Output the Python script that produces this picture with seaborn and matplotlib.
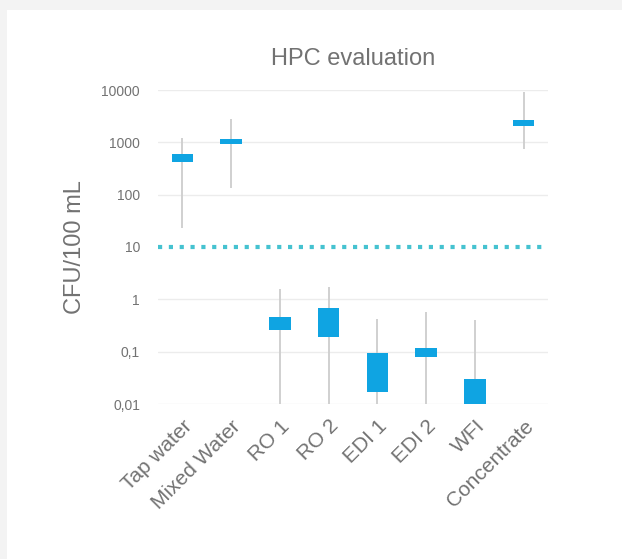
import numpy as np
import pandas as pd
import seaborn as sns
import matplotlib.pyplot as plt
from matplotlib.patches import Rectangle

# samples: min, q1, median, q3, max (CFU/100 mL)
categories = ['Tap water', 'Mixed Water', 'RO 1', 'RO 2', 'EDI 1', 'EDI 2', 'WFI', 'Concentrate']
v_min = [23, 133, 0.01, 0.01, 0.01, 0.01, 0.01, 740]
v_q1 = [417, 920, 0.26, 0.19, 0.017, 0.08, 0.01, 2010]
v_med = [495, 1030, 0.345, 0.36, 0.04, 0.098, 0.017, 2300]
v_q3 = [590, 1140, 0.457, 0.68, 0.096, 0.12, 0.03, 2620]
v_max = [1190, 2740, 1.55, 1.7, 0.42, 0.57, 0.40, 9300]
limit = 10
tick_vals = [0.01, 0.1, 1, 10, 100, 1000, 10000]
tick_labels = ['0,01', '0,1', '1', '10', '100', '1000', '10000']

rows = []
for i, c in enumerate(categories):
    for v in (v_min[i], v_q1[i], v_med[i], v_q3[i], v_max[i]):
        rows.append({'sample': c, 'cfu': v})
df = pd.DataFrame(rows)

sns.set_style('white')
plt.rcParams['font.family'] = ['Liberation Sans', 'DejaVu Sans']

blue = '#0fa4e2'
grey_txt = '#727272'

fig = plt.figure(figsize=(6.22, 5.59), dpi=100, facecolor='#f3f3f3')
fig.patches.append(Rectangle((7 / 622, 0), 1, 1 - 10 / 559, transform=fig.transFigure,
                             facecolor='white', edgecolor='none', zorder=-5))
ax = fig.add_axes([158 / 622, 1 - 404 / 559, 390 / 622, 314 / 559])
ax.set_facecolor('none')

sns.boxplot(data=df, x='sample', y='cfu', ax=ax, log_scale=True, whis=np.inf,
            width=0.44, showcaps=False, color=blue,
            boxprops=dict(facecolor=blue, edgecolor='none', linewidth=0, zorder=3),
            whiskerprops=dict(color='#cdcdcd', linewidth=1.3, zorder=2),
            medianprops=dict(color=blue, linewidth=0),
            showfliers=False)

for t in tick_vals:
    if t != limit:
        ax.axhline(t, color='#ececec', lw=1, zorder=0)
ax.axhline(limit, color='#45c2d0', lw=3, ls=(0, (1, 1.6)), dash_capstyle='butt', zorder=4)

ax.set_ylim(0.01, 10000)
ax.set_xlim(-0.5, len(categories) - 0.5)
ax.set_yticks(tick_vals)
ax.set_yticklabels(tick_labels)
ax.minorticks_off()
ax.tick_params(axis='y', length=0, pad=13, labelsize=10, labelcolor=grey_txt)
ax.tick_params(axis='x', length=0, pad=9, labelsize=15, labelcolor=grey_txt)
plt.setp(ax.get_xticklabels(), rotation=45, ha='right', rotation_mode='anchor')
ax.set_xlabel('')
ax.set_ylabel('CFU/100 mL', fontsize=17, color=grey_txt, labelpad=11)
ax.set_title('HPC evaluation', fontsize=17, color=grey_txt, pad=18)
sns.despine(ax=ax, left=True, bottom=True)

fig.savefig('out.png', dpi=100, facecolor=fig.get_facecolor())
